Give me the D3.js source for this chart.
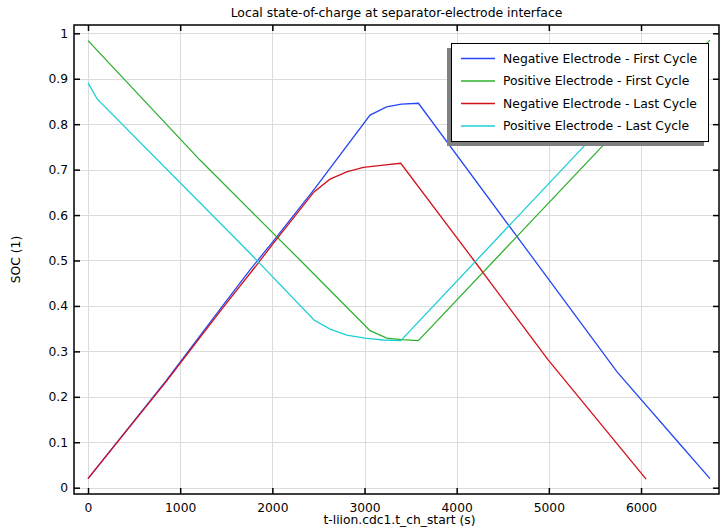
<!DOCTYPE html>
<html>
<head>
<meta charset="utf-8">
<script src="https://cdn.jsdelivr.net/npm/d3@7"></script>
<style>
    body { margin: 0; background: #fff; }
    svg { display: block; font-family: "DejaVu Sans", sans-serif; }
</style>
</head>
<body>
<div id="chart"></div>
<script>
// Series data (time in s, SOC)
var negFirstT = [0, 850, 1460, 1760, 2000, 2460, 3060, 3240, 3400, 3585, 5740, 6404, 6748];
var negFirstV = [0.02, 0.236, 0.40, 0.48, 0.54, 0.658, 0.82, 0.838, 0.844, 0.846, 0.255, 0.10, 0.02];

var posFirstT = [0, 1215, 2300, 3060, 3241, 3400, 3584, 5573, 6748];
var posFirstV = [0.984, 0.721, 0.501, 0.3456, 0.329, 0.326, 0.3235, 0.75, 0.985];

var negLastT = [0, 850, 1460, 1830, 2000, 2452, 2626, 2807, 2988, 3204, 3393, 4188, 4990, 6055];
var negLastV = [0.02, 0.234, 0.395, 0.49, 0.535, 0.651, 0.679, 0.695, 0.705, 0.710, 0.714, 0.50, 0.282, 0.019];

var posLastT = [0, 101, 1758, 2452, 2626, 2807, 3005, 3204, 3393, 5374, 6055];
var posLastV = [0.891, 0.855, 0.516, 0.369, 0.349, 0.336, 0.329, 0.325, 0.3235, 0.75, 0.89];

var seriesNames = [
    "Negative Electrode - First Cycle",
    "Positive Electrode - First Cycle",
    "Negative Electrode - Last Cycle",
    "Positive Electrode - Last Cycle"
];
var seriesColors = ["#2448f5", "#2fb12f", "#d3121c", "#1ccfd6"];

var xTicks = [0, 1000, 2000, 3000, 4000, 5000, 6000];
var yTicks = [0, 0.1, 0.2, 0.3, 0.4, 0.5, 0.6, 0.7, 0.8, 0.9, 1];

var width = 720, height = 529;
// plot frame edges (note: "top" is a reserved window property, so use m.*)
var m = { left: 74, right: 719, top: 25, bottom: 494 };

var svg = d3.select("#chart")
    .append("svg")
    .attr("width", width)
    .attr("height", height);

var x = d3.scaleLinear()
    .domain([-152, 6846])
    .range([m.left, m.right]);
var y = d3.scaleLinear()
    .domain([-0.0139, 1.0183])
    .range([m.bottom, m.top]);

// Grid
var grid = svg.append("g").attr("class", "grid");
grid.selectAll(".gx")
    .data(xTicks)
    .enter()
    .append("line")
    .attr("x1", function (d) { return Math.round(x(d)) + 0.5; })
    .attr("x2", function (d) { return Math.round(x(d)) + 0.5; })
    .attr("y1", m.top)
    .attr("y2", m.bottom)
    .attr("stroke", "#dcdcdc");
grid.selectAll(".gy")
    .data(yTicks)
    .enter()
    .append("line")
    .attr("y1", function (d) { return Math.round(y(d)) + 0.5; })
    .attr("y2", function (d) { return Math.round(y(d)) + 0.5; })
    .attr("x1", m.left)
    .attr("x2", m.right)
    .attr("stroke", "#dcdcdc");

// Lines
var series = [
    d3.zip(negFirstT, negFirstV),
    d3.zip(posFirstT, posFirstV),
    d3.zip(negLastT, negLastV),
    d3.zip(posLastT, posLastV)
];
var line = d3.line()
    .x(function (d) { return x(d[0]); })
    .y(function (d) { return y(d[1]); });

svg.append("g")
    .selectAll("path")
    .data(series)
    .enter()
    .append("path")
    .attr("d", line)
    .attr("fill", "none")
    .attr("stroke-width", 1.3)
    .attr("stroke", function (d, i) { return seriesColors[i]; });

// Axes: ticks on all four sides, pointing inward
var tickLen = 6;
svg.append("g")
    .attr("transform", "translate(0," + m.bottom + ")")
    .call(d3.axisBottom(x).tickValues(xTicks).tickSizeInner(-tickLen).tickSizeOuter(0).tickPadding(9)
        .tickFormat(d3.format("d")))
    .call(function (g) { g.select(".domain").remove(); });
svg.append("g")
    .attr("transform", "translate(0," + m.top + ")")
    .call(d3.axisTop(x).tickValues(xTicks).tickSizeInner(-tickLen).tickSizeOuter(0).tickFormat(""))
    .call(function (g) { g.select(".domain").remove(); });
svg.append("g")
    .attr("transform", "translate(" + m.left + ",0)")
    .call(d3.axisLeft(y).tickValues(yTicks).tickSizeInner(-tickLen).tickSizeOuter(0).tickPadding(6)
        .tickFormat(function (d) { return d === 0 || d === 1 ? d : d3.format(".1f")(d); }))
    .call(function (g) { g.select(".domain").remove(); });
svg.append("g")
    .attr("transform", "translate(" + m.right + ",0)")
    .call(d3.axisRight(y).tickValues(yTicks).tickSizeInner(-tickLen).tickSizeOuter(0).tickFormat(""))
    .call(function (g) { g.select(".domain").remove(); });

svg.selectAll(".tick line").attr("stroke", "#000").attr("stroke-width", 1.5);
svg.selectAll(".tick text")
    .attr("fill", "#000")
    .style("font-size", "12.3px")
    .style("font-family", "DejaVu Sans, sans-serif");

// Frame
svg.append("rect")
    .attr("x", m.left)
    .attr("y", m.top)
    .attr("width", m.right - m.left)
    .attr("height", m.bottom - m.top)
    .attr("fill", "none")
    .attr("stroke", "#000")
    .attr("stroke-width", 1.5);

// Title and axis labels
svg.append("text")
    .attr("x", (m.left + m.right) / 2)
    .attr("y", 17)
    .attr("text-anchor", "middle")
    .style("font-size", "12.4px")
    .text("Local state-of-charge at separator-electrode interface");
svg.append("text")
    .attr("x", (m.left + m.right) / 2 + 3)
    .attr("y", 524)
    .attr("text-anchor", "middle")
    .style("font-size", "12.3px")
    .text("t-liion.cdc1.t_ch_start (s)");
svg.append("text")
    .attr("transform", "translate(20," + (m.top + m.bottom) / 2 + ") rotate(-90)")
    .attr("text-anchor", "middle")
    .style("font-size", "12.3px")
    .text("SOC (1)");

// Legend with the gray drop shadow offset down-left
var lg = { x: 451, y: 43, w: 257, h: 98 };
svg.append("rect")
    .attr("x", lg.x - 4)
    .attr("y", lg.y + 5)
    .attr("width", lg.w)
    .attr("height", lg.h)
    .attr("fill", "#808080");
svg.append("rect")
    .attr("x", lg.x + 0.5)
    .attr("y", lg.y + 0.5)
    .attr("width", lg.w)
    .attr("height", lg.h)
    .attr("fill", "#fff")
    .attr("stroke", "#000");

var items = svg.append("g")
    .selectAll("g")
    .data(seriesNames)
    .enter()
    .append("g")
    .attr("transform", function (d, i) { return "translate(" + lg.x + "," + (lg.y + 15.5 + i * 22.5) + ")"; });
items.append("line")
    .attr("x1", 10)
    .attr("x2", 44)
    .attr("stroke-width", 1.3)
    .attr("stroke", function (d, i) { return seriesColors[i]; });
items.append("text")
    .attr("x", 52)
    .attr("dy", "0.35em")
    .style("font-size", "12.4px")
    .text(function (d) { return d; });
</script>
</body>
</html>
